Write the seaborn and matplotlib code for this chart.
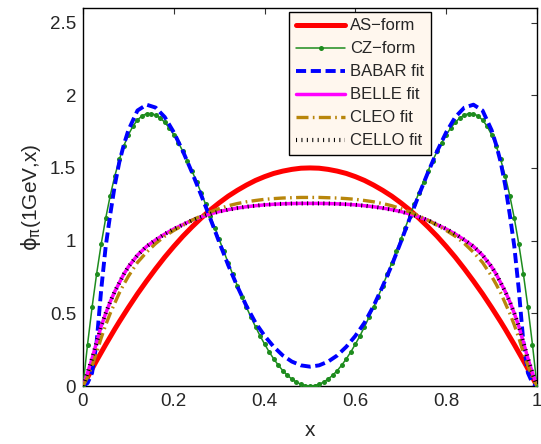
import numpy as np
import matplotlib
matplotlib.use("Agg")
import matplotlib.pyplot as plt
import seaborn as sns

# ---- data ----
x_cz = np.round(np.arange(0, 101) * 0.01, 2)
cz_form = [0.000, 0.285, 0.542, 0.771, 0.975, 1.154, 1.310, 1.444, 1.558, 1.652,
           1.728, 1.787, 1.830, 1.858, 1.873, 1.874, 1.864, 1.844, 1.814, 1.775,
           1.728, 1.674, 1.614, 1.549, 1.480, 1.406, 1.330, 1.251, 1.171, 1.090,
           1.008, 0.927, 0.846, 0.767, 0.689, 0.614, 0.542, 0.473, 0.407, 0.345,
           0.288, 0.235, 0.187, 0.144, 0.106, 0.074, 0.048, 0.027, 0.012, 0.003,
           0.000,
           0.003, 0.012, 0.027, 0.048, 0.074, 0.106, 0.144, 0.187, 0.235, 0.288,
           0.345, 0.407, 0.473, 0.542, 0.614, 0.689, 0.767, 0.846, 0.927, 1.008,
           1.090, 1.171, 1.251, 1.330, 1.406, 1.480, 1.549, 1.614, 1.674, 1.728,
           1.775, 1.814, 1.844, 1.864, 1.874, 1.873, 1.858, 1.830, 1.787, 1.728,
           1.652, 1.558, 1.444, 1.310, 1.154, 0.975, 0.771, 0.542, 0.285, 0.000]

x_fit = [0.00, 0.01, 0.02, 0.03, 0.04, 0.05, 0.06, 0.07, 0.08, 0.09, 0.10,
         0.12, 0.14, 0.16, 0.18, 0.20, 0.22, 0.24, 0.26, 0.28, 0.30, 0.32, 0.34,
         0.36, 0.38, 0.40, 0.42, 0.44, 0.46, 0.48, 0.50, 0.52, 0.54, 0.56, 0.58,
         0.60, 0.62, 0.64, 0.66, 0.68, 0.70, 0.72, 0.74, 0.76, 0.78, 0.80, 0.82,
         0.84, 0.86, 0.88, 0.90, 0.91, 0.92, 0.93, 0.94, 0.95, 0.96, 0.97, 0.98,
         0.99, 1.00]

as_form = [0.000, 0.059, 0.118, 0.175, 0.230, 0.285, 0.338, 0.391, 0.442, 0.491, 0.540,
           0.634, 0.722, 0.806, 0.886, 0.960, 1.030, 1.094, 1.154, 1.210, 1.260,
           1.306, 1.346, 1.382, 1.414, 1.440, 1.462, 1.478, 1.490, 1.498, 1.500,
           1.498, 1.490, 1.478, 1.462, 1.440, 1.414, 1.382, 1.346, 1.306, 1.260,
           1.210, 1.154, 1.094, 1.030, 0.960, 0.886, 0.806, 0.722, 0.634,
           0.540, 0.491, 0.442, 0.391, 0.338, 0.285, 0.230, 0.175, 0.118, 0.059, 0.000]

babar_fit = [0.000, 0.020, 0.090, 0.300, 0.660, 0.960, 1.180, 1.380, 1.540, 1.660, 1.760,
             1.895, 1.935, 1.915, 1.850, 1.745, 1.615, 1.470, 1.315, 1.155, 0.990,
             0.830, 0.685, 0.550, 0.435, 0.345, 0.270, 0.210, 0.168, 0.142, 0.133,
             0.142, 0.168, 0.210, 0.270, 0.345, 0.435, 0.550, 0.685, 0.830, 0.990,
             1.155, 1.315, 1.470, 1.615, 1.745, 1.850, 1.915, 1.935, 1.895,
             1.760, 1.660, 1.540, 1.380, 1.180, 0.960, 0.660, 0.300, 0.090, 0.020, 0.000]

belle_fit = [0.000, 0.090, 0.190, 0.300, 0.410, 0.500, 0.580, 0.650, 0.710, 0.770, 0.820,
             0.900, 0.960, 1.005, 1.045, 1.080, 1.110, 1.140, 1.163, 1.183, 1.200,
             1.213, 1.224, 1.233, 1.240, 1.246, 1.250, 1.253, 1.255, 1.256, 1.256,
             1.256, 1.255, 1.253, 1.250, 1.246, 1.240, 1.233, 1.224, 1.213, 1.200,
             1.183, 1.163, 1.140, 1.110, 1.080, 1.045, 1.005, 0.960, 0.900,
             0.820, 0.770, 0.710, 0.650, 0.580, 0.500, 0.410, 0.300, 0.190, 0.090, 0.000]

cleo_fit = [0.000, 0.060, 0.140, 0.230, 0.330, 0.420, 0.500, 0.570, 0.640, 0.700, 0.755,
            0.850, 0.920, 0.980, 1.030, 1.070, 1.105, 1.140, 1.170, 1.197, 1.220,
            1.240, 1.255, 1.267, 1.276, 1.284, 1.289, 1.293, 1.295, 1.297, 1.297,
            1.297, 1.295, 1.293, 1.289, 1.284, 1.276, 1.267, 1.255, 1.240, 1.220,
            1.197, 1.170, 1.140, 1.105, 1.070, 1.030, 0.980, 0.920, 0.850,
            0.755, 0.700, 0.640, 0.570, 0.500, 0.420, 0.330, 0.230, 0.140, 0.060, 0.000]

cello_fit = [0.000, 0.090, 0.190, 0.300, 0.410, 0.500, 0.580, 0.650, 0.710, 0.770, 0.820,
             0.900, 0.960, 1.005, 1.045, 1.080, 1.110, 1.140, 1.163, 1.183, 1.200,
             1.213, 1.224, 1.233, 1.240, 1.246, 1.250, 1.253, 1.255, 1.256, 1.256,
             1.256, 1.255, 1.253, 1.250, 1.246, 1.240, 1.233, 1.224, 1.213, 1.200,
             1.183, 1.163, 1.140, 1.110, 1.080, 1.045, 1.005, 0.960, 0.900,
             0.820, 0.770, 0.710, 0.650, 0.580, 0.500, 0.410, 0.300, 0.190, 0.090, 0.000]

labels = ["AS\u2212form", "CZ\u2212form", "BABAR fit", "BELLE fit", "CLEO fit", "CELLO fit"]
x_ticks = [0, 0.2, 0.4, 0.6, 0.8, 1]
x_ticklabels = ["0", "0.2", "0.4", "0.6", "0.8", "1"]
y_ticks = [0, 0.5, 1, 1.5, 2, 2.5]
y_ticklabels = ["0", "0.5", "1", "1.5", "2", "2.5"]

# ---- style ----
sns.set_style("white")
plt.rcParams["font.family"] = ["Liberation Sans", "DejaVu Sans"]
plt.rcParams["mathtext.fontset"] = "dejavusans"
FS_TICK = 13.5
FS_LAB = 15
FS_LEG = 12

fig = plt.figure(figsize=(5.41, 4.44), dpi=100)
ax = fig.add_axes([83 / 541, 58 / 444, 454 / 541, 378 / 444])

sns.lineplot(x=x_fit, y=as_form, ax=ax, color="#ff0000", lw=3.6,
             label=labels[0], zorder=2)
sns.lineplot(x=x_cz, y=cz_form, ax=ax, color="#1e8c1e", lw=1.1, marker="o",
             markersize=3.6, markeredgewidth=0, label=labels[1], zorder=3)
sns.lineplot(x=x_fit, y=babar_fit, ax=ax, color="#0000ff", lw=2.8,
             linestyle=(0, (2.6, 1.2)), label=labels[2], zorder=4)
sns.lineplot(x=x_fit, y=belle_fit, ax=ax, color="#ff00ff", lw=2.5,
             label=labels[3], zorder=5)
sns.lineplot(x=x_fit, y=cleo_fit, ax=ax, color="#b8860b", lw=2.4,
             linestyle=(0, (3.6, 1.3, 0.5, 1.3)), label=labels[4], zorder=6)
sns.lineplot(x=x_fit, y=cello_fit, ax=ax, color="black", lw=3.0,
             linestyle=(0, (0.25, 1.05)), dash_capstyle="butt",
             label=labels[5], zorder=7)

ax.set_xlim(0, 1)
ax.set_ylim(0, 2.6)
ax.set_xticks(x_ticks)
ax.set_xticklabels(x_ticklabels)
ax.set_yticks(y_ticks)
ax.set_yticklabels(y_ticklabels)
ax.tick_params(direction="in", length=4, width=0.8, top=True, right=True,
               labelsize=FS_TICK, pad=5, color="#333333")
for sp in ax.spines.values():
    sp.set_visible(True)
    sp.set_color("black")
    sp.set_linewidth(1.0)

ax.set_xlabel("x", fontsize=FS_LAB, labelpad=8)
ax.set_ylabel(r"$\mathrm{\phi_\pi}$(1GeV,x)", fontsize=FS_LAB, labelpad=5)

leg = ax.legend(loc="upper left", bbox_to_anchor=(0.4544, 0.990),
                fontsize=FS_LEG, frameon=True, fancybox=False, framealpha=1,
                facecolor="#fff7ee", edgecolor="black", handlelength=2.95,
                handletextpad=0.3, labelspacing=0.48, borderpad=0.4,
                borderaxespad=0.0, numpoints=1)
leg.get_frame().set_linewidth(1.0)

fig.savefig("out.png", dpi=100)
